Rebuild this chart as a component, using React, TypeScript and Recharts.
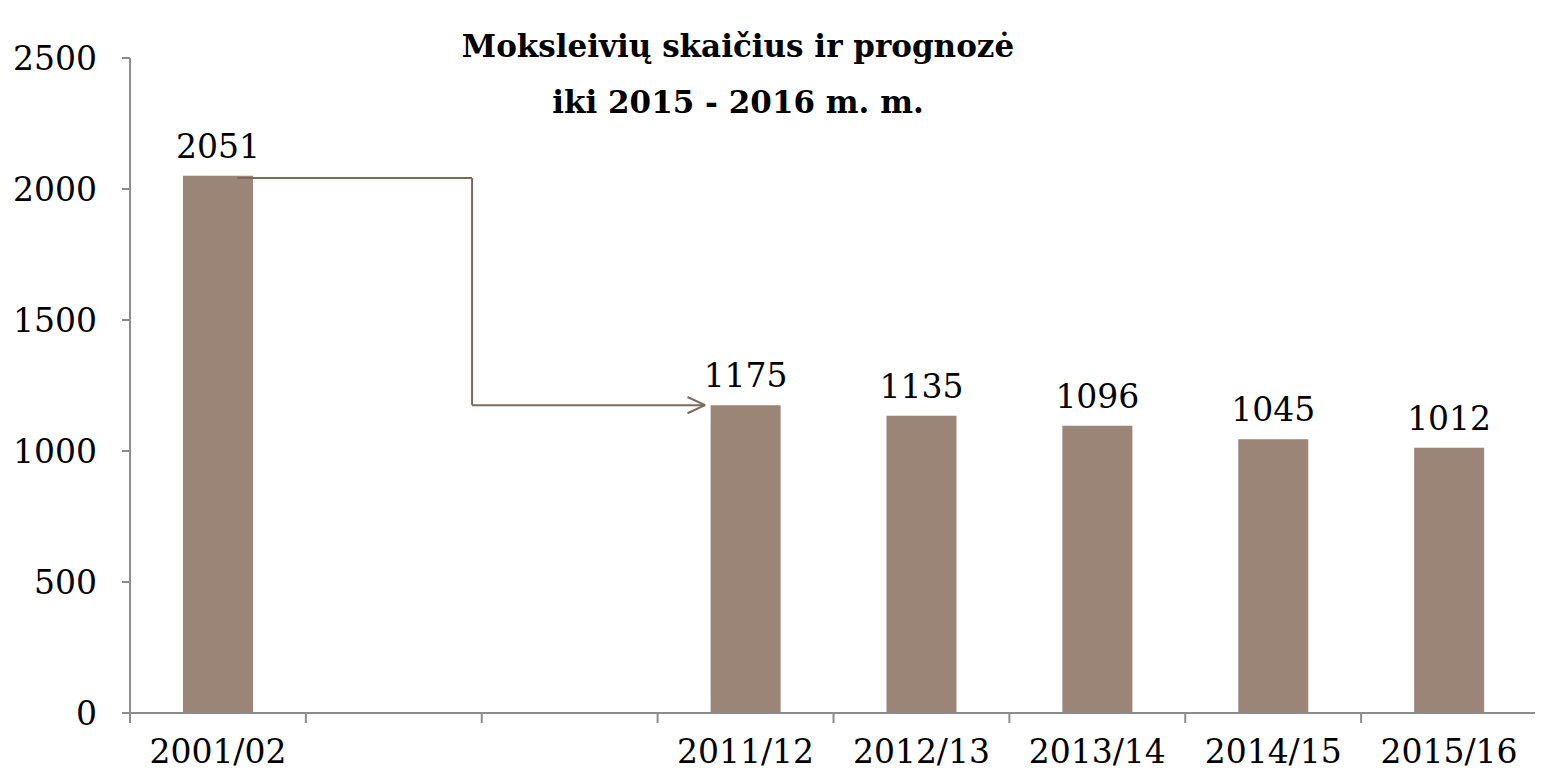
import React from 'react';
import {
  BarChart,
  Bar,
  XAxis,
  YAxis,
  LabelList,
  ReferenceLine,
} from 'recharts';

// school years (two empty slots between 2001/02 and 2011/12)
const years = ['2001/02', '', '', '2011/12', '2012/13', '2013/14', '2014/15', '2015/16'];
const pupils: (number | null)[] = [2051, null, null, 1175, 1135, 1096, 1045, 1012];
const yTicks = [0, 500, 1000, 1500, 2000, 2500];

// connector arrow from the 2001/02 bar to the 2011/12 bar (slot units on a hidden numeric axis)
const arrowPath = [
  { x: 0.61, y: 2042 },
  { x: 1.945, y: 2042 },
  { x: 1.945, y: 1175 },
  { x: 3.27, y: 1175 },
];
const arrowHead = [
  { x: 3.17, y: 1206 },
  { x: 3.27, y: 1175 },
  { x: 3.17, y: 1144 },
];

const data = years.map((year, i) => ({ year, value: pupils[i], slot: i + 0.5 }));
const boundaries = years.map((_, i) => i).concat(years.length);

const FONT = '"DejaVu Serif", "Liberation Serif", serif';
const AXIS = '#8c8c8c';
const BAR = '#9b8577';
const ARROW = '#7b695d';

export default function App() {
  const segs: [typeof arrowPath[0], typeof arrowPath[0]][] = [];
  for (let i = 0; i < arrowPath.length - 1; i++) segs.push([arrowPath[i], arrowPath[i + 1]]);
  for (let i = 0; i < arrowHead.length - 1; i++) segs.push([arrowHead[i], arrowHead[i + 1]]);

  return (
    <div style={{ position: 'relative', width: 1535, height: 771, fontFamily: FONT }}>
      <div
        style={{
          position: 'absolute',
          left: 380,
          width: 700,
          top: 10,
          textAlign: 'center',
          fontWeight: 'bold',
          fontSize: 31,
          lineHeight: '56px',
          color: '#000',
        }}
      >
        <div>Moksleivių skaičius ir prognozė</div>
        <div>iki 2015 - 2016 m. m.</div>
      </div>
      <BarChart
        width={1535}
        height={771}
        data={data}
        margin={{ top: 50, right: 6, bottom: 6, left: 22 }}
        barSize={70}
      >
        <XAxis
          dataKey="year"
          height={60}
          tickLine={false}
          tickSize={0}
          tickMargin={27}
          axisLine={{ stroke: AXIS, strokeWidth: 2 }}
          tick={{ fontSize: 33, fill: '#000', fontFamily: FONT }}
          interval={0}
        />
        <XAxis
          xAxisId="num"
          dataKey="slot"
          type="number"
          domain={[0, years.length]}
          allowDataOverflow
          hide
        />
        <YAxis
          width={100}
          domain={[0, 2500]}
          ticks={yTicks}
          tickSize={8}
          tickMargin={25}
          tickLine={{ stroke: AXIS, strokeWidth: 2 }}
          axisLine={{ stroke: AXIS, strokeWidth: 2 }}
          tick={{ fontSize: 33, fill: '#000', fontFamily: FONT }}
        />
        <Bar dataKey="value" fill={BAR} isAnimationActive={false}>
          <LabelList
            dataKey="value"
            position="top"
            offset={18}
            style={{ fontSize: 33, fill: '#000', fontFamily: FONT }}
          />
        </Bar>
        {boundaries.map((b) => (
          <ReferenceLine
            key={'t' + b}
            xAxisId="num"
            ifOverflow="visible"
            stroke={AXIS}
            strokeWidth={2}
            segment={[
              { x: b, y: 0 },
              { x: b, y: -38 },
            ]}
          />
        ))}
        {segs.map((s, i) => (
          <ReferenceLine
            key={'a' + i}
            xAxisId="num"
            ifOverflow="visible"
            stroke={ARROW}
            strokeWidth={2}
            segment={s}
          />
        ))}
      </BarChart>
    </div>
  );
}
